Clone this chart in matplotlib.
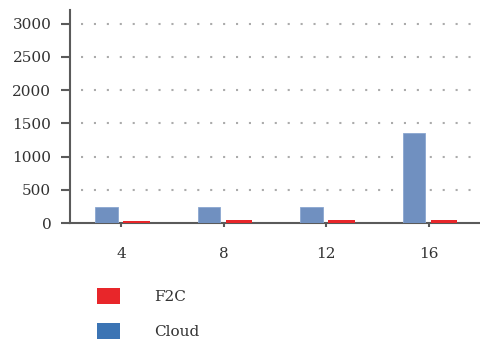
import matplotlib
matplotlib.use("Agg")
import matplotlib.pyplot as plt
from matplotlib.patches import Patch
import numpy as np

plt.rcParams['font.family'] = ['DejaVu Serif']
plt.rcParams['font.size'] = 11

categories = ['4', '8', '12', '16']
cloud = [240, 240, 240, 1350]
f2c = [35, 50, 50, 50]
yticks = [0, 500, 1000, 1500, 2000, 2500, 3000]

fig = plt.figure(figsize=(4.8, 3.4), dpi=100)
ax = fig.add_axes([0.146, 0.344, 0.854, 0.626])

x = np.arange(len(categories))
ax.bar(x - 0.145, cloud, width=0.22, color='#7090c0', edgecolor='#8aa6d0', linewidth=0.6, zorder=3)
ax.bar(x + 0.15, f2c, width=0.26, color='#e8262a', zorder=3)

# dotted gridlines
ax.hlines(yticks[1:], -0.39, 3.5, colors='#ababab', linestyles=(0, (1, 5.2)), linewidth=1.5, zorder=1)

ax.set_xlim(-0.5, 3.5)
ax.set_ylim(0, 3200)
ax.set_yticks(yticks)
ax.set_xticks(x)
ax.set_xticklabels(categories)

for s in ['top', 'right']:
    ax.spines[s].set_visible(False)
for s in ['left', 'bottom']:
    ax.spines[s].set_color('#5a5a5a')
    ax.spines[s].set_linewidth(1.5)

ax.tick_params(axis='y', length=6.5, width=1.5, color='#5a5a5a', pad=7, labelcolor='#333333')
ax.tick_params(axis='x', length=3, width=1.5, color='#5a5a5a', pad=14, labelcolor='#333333')

handles = [Patch(facecolor='#e8262a', label='F2C'), Patch(facecolor='#3b74b4', label='Cloud')]
fig.legend(handles=handles, loc='upper left', bbox_to_anchor=(0.19, 0.17), frameon=False,
           handlelength=1.5, handleheight=1.2, handletextpad=2.2, labelspacing=1.25,
           borderaxespad=0, fontsize=11, labelcolor='#333333')

fig.savefig('out.png', dpi=100)
